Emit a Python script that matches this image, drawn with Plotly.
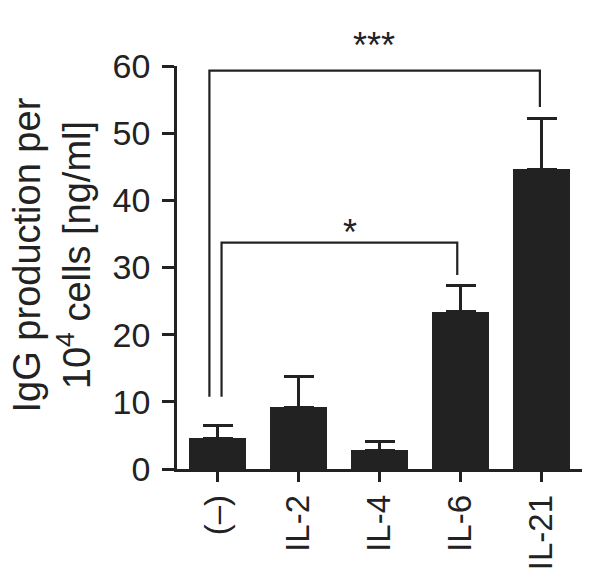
import plotly.graph_objects as go

# Data
groups = ['(–)', 'IL-2', 'IL-4', 'IL-6', 'IL-21']
igg_mean = [4.6, 9.2, 2.8, 23.4, 44.6]
igg_sem = [1.9, 4.5, 1.3, 3.9, 7.6]

# significance brackets: (left x, right x, top y, left bottom, right bottom, label, label x, label y)
brackets = [
    (-0.10, 3.98, 59.3, 10.75, 53.9, '***', 1.93, 63.1),
    (0.05, 2.96, 33.7, 10.75, 28.9, '*', 1.64, 35.2),
]

Y_MAX = 60
INK = '#222222'
FONT = 'Arial, Liberation Sans, sans-serif'

x_pos = list(range(len(groups)))

fig = go.Figure()
fig.add_trace(go.Bar(
    x=x_pos, y=igg_mean, width=0.7,
    marker=dict(color=INK, line=dict(width=0)),
    error_y=dict(type='data', symmetric=False, array=igg_sem,
                 arrayminus=[0] * len(igg_sem),
                 color=INK, thickness=3, width=15),
))

for x0, x1, ytop, yl, yr, label, tx, ty in brackets:
    fig.add_trace(go.Scatter(
        x=[x0, x0, x1, x1], y=[yl, ytop, ytop, yr],
        mode='lines', line=dict(color=INK, width=2.2),
        hoverinfo='skip', cliponaxis=False,
    ))
    # paper y so labels above the axis range still show
    fig.add_annotation(
        x=tx, xref='x', y=ty / Y_MAX, yref='paper', text=label,
        showarrow=False, xanchor='center', yanchor='middle',
        font=dict(size=36, color=INK, family=FONT),
    )

fig.add_annotation(
    xref='paper', yref='paper', x=-0.31, y=0.531,
    text='IgG production per<br>10<sup>4</sup> cells [ng/ml]',
    textangle=-90, showarrow=False, xanchor='center', yanchor='middle',
    font=dict(size=38, color=INK, family=FONT),
)

# page body adds ~8px offset, so trim left/top margins and size
fig.update_layout(
    width=593, height=580,
    paper_bgcolor='white', plot_bgcolor='white',
    margin=dict(l=169, r=19, t=58, b=119),
    showlegend=False, bargap=0,
    font=dict(family=FONT, size=36, color=INK),
    xaxis=dict(
        range=[-0.5, 4.5], tickvals=x_pos, ticktext=groups,
        tickangle=-90, ticks='outside', ticklen=10, tickwidth=2.5,
        tickcolor=INK, tickfont=dict(size=33),
        showline=True, linecolor=INK, linewidth=2.5,
        showgrid=False, zeroline=False, automargin=False,
    ),
    yaxis=dict(
        range=[0, Y_MAX], tickvals=[0, 10, 20, 30, 40, 50, 60],
        ticks='outside', ticklen=12, tickwidth=2.5, tickcolor=INK,
        tickfont=dict(size=34), ticklabelstandoff=5,
        showline=True, linecolor=INK, linewidth=2.5,
        showgrid=False, zeroline=False, automargin=False,
    ),
)

fig.write_html('out.html')
